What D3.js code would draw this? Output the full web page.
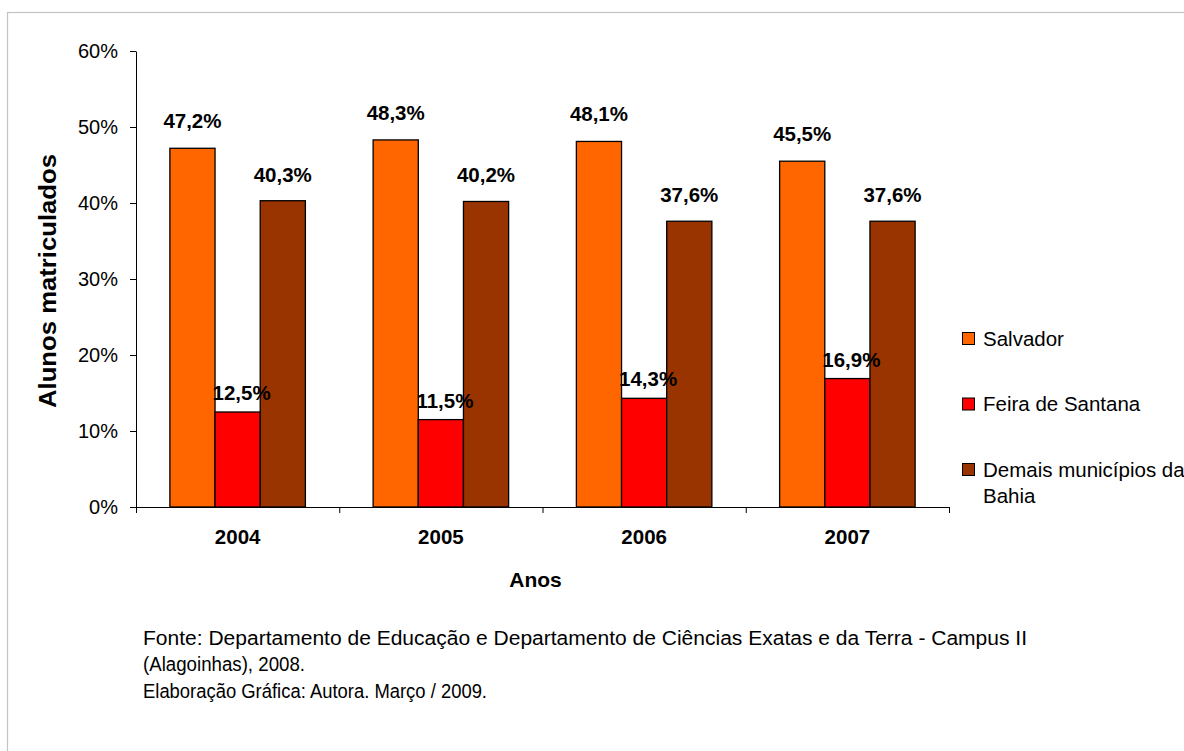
<!DOCTYPE html>
<html>
<head>
<meta charset="utf-8">
<script src="https://cdn.jsdelivr.net/npm/d3@7/dist/d3.min.js"></script>
<style>
  html, body { margin: 0; padding: 0; background: #fff; }
  svg { display: block; font-family: "Liberation Sans", Arial, sans-serif; }
</style>
</head>
<body>
<svg id="chart" width="1184" height="751"></svg>
<script>
// ---- data ----
const years = ["2004", "2005", "2006", "2007"];
const seriesNames = ["Salvador", "Feira de Santana", "Demais municípios da Bahia"];
const salvador = [47.2, 48.3, 48.1, 45.5];
const feira = [12.5, 11.5, 14.3, 16.9];
const demais = [40.3, 40.2, 37.6, 37.6];
const yTicks = [0, 10, 20, 30, 40, 50, 60];
const yTitle = "Alunos matriculados";
const xTitle = "Anos";
const footerLines = [
  "Fonte: Departamento de Educação e Departamento de Ciências Exatas e da Terra - Campus II",
  "(Alagoinhas), 2008.",
  "Elaboração Gráfica: Autora. Março / 2009."
];
const legendLines = [["Salvador"], ["Feira de Santana"], ["Demais municípios da", "Bahia"]];

// ---- styles ----
const colors = ["#FF6600", "#FF0000", "#993300"];
const labelDy = [-20, -12, -19];   // baseline offset above bar top
const labelDx = [0, 4, 0];
const footerWidths = [884, 162, 344];

(function () {
const seriesValues = [salvador, feira, demais];
const rows = years.map((yr, i) => ({ year: yr, values: seriesValues.map((s, k) => ({ k, v: s[i], year: yr })) }));

const svg = d3.select("#chart");

// frame
svg.append("rect").attr("x", 7.5).attr("y", 12.5).attr("width", 1300).attr("height", 900)
  .attr("fill", "none").attr("stroke", "#c3c3c3").attr("stroke-width", 1.2);

const pLeft = 136, pRight = 949, pTop = 51, pBottom = 507;

const x = d3.scaleBand().domain(years).range([pLeft, pRight]).paddingInner(0).paddingOuter(0);
const bw = x.bandwidth();
const gap = bw * 1.5 / 4.5;
const xs = d3.scaleBand().domain(d3.range(seriesNames.length)).range([gap / 2, bw - gap / 2]);
const y = d3.scaleLinear().domain([0, 60]).range([pBottom, pTop]);

const fmt = d3.formatLocale({ decimal: ",", thousands: ".", grouping: [3], currency: ["", ""] }).format(".1f");

// y axis
const yAxis = svg.append("g").attr("transform", `translate(${pLeft},0)`)
  .call(d3.axisLeft(y).tickValues(yTicks).tickFormat(d => d + "%").tickSize(6).tickSizeOuter(0).tickPadding(12));
yAxis.select(".domain").attr("stroke", "#000").attr("stroke-width", 1);
yAxis.selectAll(".tick line").attr("stroke", "#000");
yAxis.selectAll(".tick text").attr("font-size", 20).attr("fill", "#000")
  .attr("font-family", "Liberation Sans, Arial, sans-serif");

// bars
const groups = svg.append("g").selectAll("g").data(rows).join("g")
  .attr("transform", d => `translate(${x(d.year)},0)`);
groups.selectAll("rect").data(d => d.values).join("rect")
  .attr("x", d => xs(d.k))
  .attr("y", d => y(d.v))
  .attr("width", xs.bandwidth())
  .attr("height", d => y(0) - y(d.v))
  .attr("fill", d => colors[d.k])
  .attr("stroke", "#000").attr("stroke-width", 1.3);

// x axis (edge ticks)
const xEdge = d3.scaleLinear().domain([0, years.length]).range([pLeft, pRight]);
const xAxis = svg.append("g").attr("transform", `translate(0,${pBottom})`)
  .call(d3.axisBottom(xEdge).tickValues(d3.range(years.length + 1)).tickFormat("").tickSize(6).tickSizeOuter(0));
xAxis.select(".domain").attr("stroke", "#000").attr("stroke-width", 1);
xAxis.selectAll(".tick line").attr("stroke", "#000");

const xLab = svg.append("g").attr("transform", `translate(0,${pBottom})`)
  .call(d3.axisBottom(x).tickSize(0).tickPadding(22.5));
xLab.select(".domain").remove();
xLab.selectAll(".tick text").attr("font-size", 20.5).attr("font-weight", "bold").attr("fill", "#000")
  .attr("font-family", "Liberation Sans, Arial, sans-serif");

// data labels
groups.selectAll("text.lbl").data(d => d.values).join("text")
  .attr("class", "lbl")
  .attr("x", d => xs(d.k) + xs.bandwidth() / 2 + labelDx[d.k])
  .attr("y", d => y(d.v) + labelDy[d.k])
  .attr("text-anchor", "middle")
  .attr("font-size", 20.5).attr("font-weight", "bold").attr("fill", "#000")
  .text(d => fmt(d.v) + "%");

// axis titles
svg.append("text")
  .attr("transform", `translate(56,${(pTop + pBottom) / 2 + 2}) rotate(-90)`)
  .attr("text-anchor", "middle")
  .attr("font-size", 23).attr("font-weight", "bold").attr("fill", "#000")
  .attr("textLength", 254).attr("lengthAdjust", "spacingAndGlyphs")
  .text(yTitle);

svg.append("text")
  .attr("x", (pLeft + pRight) / 2 - 7).attr("y", 587)
  .attr("text-anchor", "middle")
  .attr("font-size", 21).attr("font-weight", "bold").attr("fill", "#000")
  .text(xTitle);

// legend
const legY = [332, 397.5, 463];
const leg = svg.append("g").selectAll("g").data(legendLines).join("g")
  .attr("transform", (d, i) => `translate(962,${legY[i]})`);
leg.append("rect").attr("x", 0.5).attr("y", 0.5).attr("width", 12).attr("height", 12)
  .attr("fill", (d, i) => colors[i]).attr("stroke", "#000").attr("stroke-width", 1);
leg.each(function (lines) {
  const g = d3.select(this);
  lines.forEach((t, j) => {
    g.append("text").attr("x", 21).attr("y", 13.5 + j * 26)
      .attr("font-size", 20.5).attr("fill", "#000").text(t);
  });
});

// footer
svg.append("g").selectAll("text").data(footerLines).join("text")
  .attr("x", 143).attr("y", (d, i) => 644.5 + i * 26.7)
  .attr("font-size", 20).attr("fill", "#000")
  .attr("textLength", (d, i) => footerWidths[i]).attr("lengthAdjust", "spacingAndGlyphs")
  .text(d => d);
})();
</script>
</body>
</html>
